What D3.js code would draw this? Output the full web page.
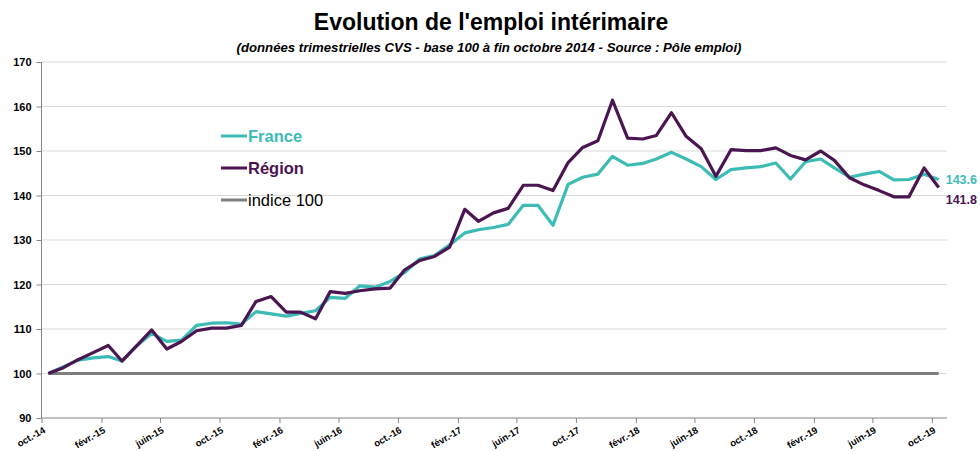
<!DOCTYPE html>
<html>
<head>
<meta charset="utf-8">
<script src="https://cdn.jsdelivr.net/npm/d3@7"></script>
<style>
  body { margin: 0; background: #fff; }
  svg { display: block; }
  .title { font-family: "Liberation Sans", Arial, sans-serif; font-weight: bold; }
  .tick text { font-family: "Liberation Sans", Arial, sans-serif; font-weight: bold; }
</style>
</head>
<body>
<div id="chart"></div>
<script>
(function(d3){

    // months : oct.-14 .. oct.-19 (61 monthly points)
    var firstMonth = new Date(2014, 9, 1),
        lastMonth = new Date(2019, 9, 1);

    var france = [
        100, 101.5, 103, 103.5, 103.8, 102.8, 106.3, 109, 107.2, 107.5,
        110.8, 111.3, 111.4, 111.1, 113.9, 113.4, 112.9, 113.5, 114.1, 117.1,
        116.9, 119.7, 119.4, 120.7, 122.7, 125.8, 126.5, 128.9, 131.6, 132.3,
        132.8, 133.5, 137.8, 137.8, 133.3, 142.5, 144.1, 144.8, 148.8, 146.8,
        147.2, 148.2, 149.7, 148.2, 146.5, 143.6, 145.8, 146.2, 146.5, 147.3,
        143.7, 147.6, 148.2, 146.2, 144.1, 144.8, 145.4, 143.5, 143.6, 144.8,
        143.6
    ];

    var region = [
        100, 101.3, 103.1, 104.7, 106.3, 102.8, 106.3, 109.8, 105.5, 107.2,
        109.6, 110.2, 110.2, 110.8, 116.2, 117.3, 113.8, 113.8, 112.3, 118.4,
        118, 118.6, 119, 119.2, 123.3, 125.4, 126.3, 128.4, 136.9, 134.2,
        136.1, 137.1, 142.3, 142.3, 141.1, 147.4, 150.8, 152.3, 161.4, 152.9,
        152.7, 153.5, 158.6, 153.3, 150.5, 144.3, 150.3, 150.1, 150.1, 150.7,
        149, 148, 150, 147.9, 144, 142.4, 141.1, 139.7, 139.7, 146.2,
        141.8
    ];

    var yTicks = [90, 100, 110, 120, 130, 140, 150, 160, 170];
    var xTickLabels = ['oct.-14','févr.-15','juin-15','oct.-15','févr.-16','juin-16','oct.-16','févr.-17',
                       'juin-17','oct.-17','févr.-18','juin-18','oct.-18','févr.-19','juin-19','oct.-19'];

    var colFrance = '#3dbbb5',
        colRegion = '#4b1552',
        colIndice = '#7f7f7f';

    var width = 980, height = 451;
    var m = {left: 41.5, right: 33, top: 62, bottom: 33};

    var months = d3.timeMonth.range(firstMonth, d3.timeMonth.offset(lastMonth, 1));
    // points sit in the middle of their month
    var pointDate = function(i){ return d3.timeDay.offset(months[i], 14); };

    var svg = d3.select('#chart').append('svg')
        .attr('width', width)
        .attr('height', height);

    var x = d3.scaleTime()
        .domain([firstMonth, d3.timeMonth.offset(lastMonth, 1)])
        .range([m.left, width - m.right]);

    var y = d3.scaleLinear()
        .domain([90, 170])
        .range([height - m.bottom, m.top]);

    // titles
    svg.append('text')
        .attr('class', 'title')
        .attr('x', 491).attr('y', 30)
        .attr('text-anchor', 'middle')
        .attr('font-size', '23px')
        .text("Evolution de l'emploi intérimaire");

    svg.append('text')
        .attr('class', 'title')
        .attr('x', 489).attr('y', 52)
        .attr('text-anchor', 'middle')
        .attr('font-size', '13.2px')
        .attr('font-style', 'italic')
        .text('(données trimestrielles CVS - base 100 à fin octobre 2014 - Source : Pôle emploi)');

    // grid
    svg.append('g')
        .selectAll('line')
        .data(yTicks.filter(function(t){ return t > 90; }))
        .join('line')
        .attr('x1', m.left).attr('x2', width - m.right)
        .attr('y1', function(d){ return y(d); })
        .attr('y2', function(d){ return y(d); })
        .attr('stroke', '#d9d9d9')
        .attr('stroke-width', 1);

    // y axis
    var yAxis = svg.append('g')
        .attr('transform', 'translate(' + m.left + ',0)')
        .call(d3.axisLeft(y).tickValues(yTicks).tickSize(5).tickPadding(5));
    yAxis.selectAll('text').attr('font-size', '11px').attr('fill', '#000');
    yAxis.selectAll('line, path').attr('stroke', '#868686');
    yAxis.select('.domain').attr('d', 'M0,' + y(170) + 'V' + y(90));

    // x axis
    var tickDates = xTickLabels.map(function(l, i){ return d3.timeMonth.offset(firstMonth, i * 4); });
    var xAxis = svg.append('g')
        .attr('transform', 'translate(0,' + y(90) + ')')
        .call(d3.axisBottom(x).tickValues(tickDates).tickSize(5)
            .tickFormat(function(d, i){ return xTickLabels[i]; }));
    xAxis.selectAll('line, path').attr('stroke', '#868686');
    xAxis.select('.domain').attr('d', 'M' + m.left + ',0H' + (width - m.right));
    xAxis.selectAll('text')
        .attr('font-size', '9.5px')
        .attr('fill', '#000')
        .attr('text-anchor', 'end')
        .attr('dy', null)
        .attr('y', 0)
        .attr('transform', 'translate(4,14) rotate(-30)');

    // indice 100
    svg.append('line')
        .attr('x1', x(pointDate(0))).attr('x2', x(pointDate(months.length - 1)))
        .attr('y1', y(100)).attr('y2', y(100))
        .attr('stroke', colIndice)
        .attr('stroke-width', 3);

    var line = d3.line()
        .x(function(d, i){ return x(pointDate(i)); })
        .y(function(d){ return y(d); });

    svg.append('path')
        .datum(france)
        .attr('d', line)
        .attr('fill', 'none')
        .attr('stroke', colFrance)
        .attr('stroke-width', 3.2)
        .attr('stroke-linejoin', 'round');

    svg.append('path')
        .datum(region)
        .attr('d', line)
        .attr('fill', 'none')
        .attr('stroke', colRegion)
        .attr('stroke-width', 3.2)
        .attr('stroke-linejoin', 'round');

    // end labels
    var lastX = x(pointDate(months.length - 1));
    svg.append('text')
        .attr('x', lastX + 7).attr('y', y(france[france.length - 1]) + 4.5)
        .attr('font-family', 'Liberation Sans, Arial, sans-serif')
        .attr('font-weight', 'bold')
        .attr('font-size', '12.5px')
        .attr('fill', colFrance)
        .text(france[france.length - 1].toFixed(1));

    svg.append('text')
        .attr('x', lastX + 7).attr('y', y(region[region.length - 1]) + 17)
        .attr('font-family', 'Liberation Sans, Arial, sans-serif')
        .attr('font-weight', 'bold')
        .attr('font-size', '12.5px')
        .attr('fill', colRegion)
        .text(region[region.length - 1].toFixed(1));

    // legend
    var legend = [
        {name: 'France', color: colFrance, bold: true, y: 136},
        {name: 'Région', color: colRegion, bold: true, y: 168},
        {name: 'indice 100', color: colIndice, bold: false, y: 200, text: '#000'}
    ];
    var lg = svg.append('g').selectAll('g').data(legend).join('g')
        .attr('transform', function(d){ return 'translate(221,' + d.y + ')'; });
    lg.append('line')
        .attr('x1', 0).attr('x2', 26)
        .attr('stroke', function(d){ return d.color; })
        .attr('stroke-width', 3);
    lg.append('text')
        .attr('x', 27).attr('y', 6)
        .attr('font-family', 'Liberation Sans, Arial, sans-serif')
        .attr('font-size', '16.5px')
        .attr('font-weight', function(d){ return d.bold ? 'bold' : 'normal'; })
        .attr('fill', function(d){ return d.text || d.color; })
        .text(function(d){ return d.name; });

}(d3));
</script>
</body>
</html>
